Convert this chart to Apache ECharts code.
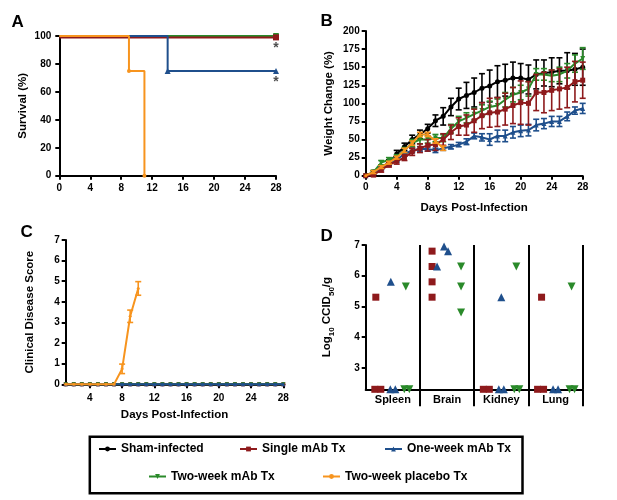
<!DOCTYPE html>
<html><head><meta charset="utf-8">
<script src="https://cdn.jsdelivr.net/npm/echarts@6/dist/echarts.min.js"></script>
<style>html,body{margin:0;padding:0;background:#fff}#c{width:617px;height:500px}</style>
</head><body><div id="c"></div>
<script>
// ================= DATA =================
const groupNames = ['Sham-infected', 'Single mAb Tx', 'One-week mAb Tx', 'Two-week mAb Tx', 'Two-week placebo Tx'];

// Panel A: survival (%) — [day, percent]
const survSham = [[0, 100], [28, 100]];
const survSingle = [[0, 99], [28, 99]];
const survOneWeek = [[0, 100], [14, 75], [28, 75]];
const survTwoWeek = [[0, 100], [28, 100]];
const survPlacebo = [[0, 100], [9, 75], [11, 0]];
const survStars = [[28, 99], [28, 75]];

// Panel B: weight change (%) mean and error per day
const weightDays = [0,1,2,3,4,5,6,7,8,9,10,11,12,13,14,15,16,17,18,19,20,21,22,23,24,25,26,27,28];
const wSham     = [0,5,12,18,30,40,50,57,65,76,82,95,106,111,115,121,124,130,132,135,135,133,140,142,143,145,145,147,150];
const wShamErr  = [0,2,3,4,5,5,6,6,6,8,12,12,15,18,20,20,22,22,22,22,20,20,20,18,20,18,25,22,25];
const wSingle    = [0,1,8,15,20,25,33,38,42,43,50,60,68,70,76,83,87,88,92,97,101,100,115,115,118,120,122,130,132];
const wSingleErr = [0,2,3,3,4,4,5,6,8,8,8,10,12,14,16,18,20,20,22,25,30,30,25,28,28,28,28,28,25];
const wOneWeek    = [0,3,10,17,22,30,35,37,37,35,38,40,43,47,55,53,50,55,55,60,62,63,70,72,75,75,82,90,93];
const wOneWeekErr = [0,1,2,2,3,3,3,3,3,3,3,3,3,4,4,5,8,8,8,8,8,8,8,7,7,7,6,5,7];
const wTwoWeek    = [0,5,18,22,26,35,45,50,50,52,52,65,75,80,85,90,95,97,105,112,115,120,140,140,138,140,145,155,162];
const wTwoWeekErr = [0,2,3,3,3,4,5,6,5,5,5,6,7,7,8,8,8,9,10,10,10,10,8,8,8,10,10,12,15];
const wPlaceboDays = [0,1,2,3,4,5,6,7,8,9,10];
const wPlacebo     = [0,5,12,18,25,35,45,57,57,48,38];
const wPlaceboErr  = [0,2,2,2,2,3,3,3,3,3,3];

// Panel C: clinical disease score
const scoreDays = [1,2,3,4,5,6,7,8,9,10,11,12,13,14,15,16,17,18,19,20,21,22,23,24,25,26,27,28];
const scoreMab  = [0,0,0,0,0,0,0,0,0,0,0,0,0,0,0,0,0,0,0,0,0,0,0,0,0,0,0,0];
const scorePlaceboDays = [1,2,3,4,5,6,7,8,9,10];
const scorePlacebo     = [0,0,0,0,0,0,0,0.75,3.3,4.65];
const scorePlaceboErr  = [0,0,0,0,0,0,0,0.23,0.3,0.33];

// Panel D: log10 CCID50/g per organ
const organs = ['Spleen', 'Brain', 'Kidney', 'Lung'];
const LOD = 2.3;
const titerSingle  = [[5.3, LOD, LOD], [6.8, 6.3, 5.8, 5.3], [LOD, LOD], [5.3, LOD, LOD]];
const titerOneWeek = [[5.8, LOD, LOD], [6.95, 6.8, 6.3], [5.3, LOD, LOD], [LOD, LOD]];
const titerTwoWeek = [[5.65, LOD, LOD], [6.3, 5.65, 4.8], [6.3, LOD, LOD], [5.65, LOD, LOD]];

// Tick labels
const ticksC_x = [4,8,12,16,20,24,28];
const ticksD_y = [3,4,5,6,7];

// ================= STYLE =================
const FONT = "'Liberation Sans', Arial, sans-serif";
const COL = {
  'Sham-infected': '#000000',
  'Single mAb Tx': '#8e1a1c',
  'One-week mAb Tx': '#1f4f8c',
  'Two-week mAb Tx': '#2a8a2a',
  'Two-week placebo Tx': '#f7941e'
};
const SYM = {
  'Sham-infected': ['circle', 0],
  'Single mAb Tx': ['rect', 0],
  'One-week mAb Tx': ['triangle', 0],
  'Two-week mAb Tx': ['triangle', 180],
  'Two-week placebo Tx': ['circle', 0]
};
// scatter offsets in panel D (pixels)
const dBase = {'Single mAb Tx': -15, 'One-week mAb Tx': 0, 'Two-week mAb Tx': 14};
const dJitSingle  = [[-2, -3, 3], [0, 0, 0, 0], [-3, 3], [1, -3, 3]];
const dJitOneWeek = [[-2, -2.5, 2.5], [-3, 1, -10], [0, -2.5, 2.5], [-2.5, 2.5]];
const dJitTwoWeek = [[-1, -2.5, 2.5], [0, 0, 0], [1, -1, 4], [2, 0, 5]];

const lbl = {color: '#000', fontFamily: FONT, fontWeight: 'bold', fontSize: 10};
const nameStyle = {color: '#000', fontFamily: FONT, fontWeight: 'bold', fontSize: 11.5};
const axLine = {show: true, onZero: false, lineStyle: {color: '#000', width: 2}};
const axTick = {show: true, length: 4, lineStyle: {color: '#000', width: 2}};

function errRender(color) {
  return function (params, api) {
    const x = api.value(0), lo = api.value(1), hi = api.value(2);
    const p1 = api.coord([x, lo]), p2 = api.coord([x, hi]);
    const w = 3;
    const st = {stroke: color, lineWidth: 1.6};
    return {type: 'group', children: [
      {type: 'line', shape: {x1: p1[0], y1: p1[1], x2: p2[0], y2: p2[1]}, style: st},
      {type: 'line', shape: {x1: p1[0] - w, y1: p1[1], x2: p1[0] + w, y2: p1[1]}, style: st},
      {type: 'line', shape: {x1: p2[0] - w, y1: p2[1], x2: p2[0] + w, y2: p2[1]}, style: st}
    ]};
  };
}
function errSeries(name, axis, days, mean, err, z) {
  const data = [];
  days.forEach((d, i) => { if (err[i] > 0) data.push([d, mean[i] - err[i], mean[i] + err[i]]); });
  return {type: 'custom', name, xAxisIndex: axis, yAxisIndex: axis, z, silent: true, clip: false,
    renderItem: errRender(COL[name]), encode: {x: 0, y: [1, 2]}, data};
}
function lineSeries(name, axis, data, z, size, width) {
  return {type: 'line', name, xAxisIndex: axis, yAxisIndex: axis, z, data, clip: false,
    symbol: SYM[name][0], symbolRotate: SYM[name][1], symbolSize: size, showAllSymbol: true,
    lineStyle: {color: COL[name], width: width}, itemStyle: {color: COL[name]},
    emphasis: {disabled: true}, animation: false};
}
const zip = (xs, ys) => xs.map((x, i) => [x, ys[i]]);

const series = [];
// --- Panel B (first, so legend icons come from these) ---
const bOrder = [
  ['Sham-infected', wSham, wShamErr, weightDays],
  ['Two-week mAb Tx', wTwoWeek, wTwoWeekErr, weightDays],
  ['One-week mAb Tx', wOneWeek, wOneWeekErr, weightDays],
  ['Single mAb Tx', wSingle, wSingleErr, weightDays],
  ['Two-week placebo Tx', wPlacebo, wPlaceboErr, wPlaceboDays]
];
bOrder.forEach((g, k) => {
  series.push(lineSeries(g[0], 1, zip(g[3], g[1]), 10 + 2 * k, g[0] === 'Two-week placebo Tx' ? 3 : 5, 2));
  series.push(errSeries(g[0], 1, g[3], g[1], g[2], 9 + 2 * k));
});

// --- Panel A ---
const aOrder = [
  ['Sham-infected', survSham], ['Two-week mAb Tx', survTwoWeek], ['Single mAb Tx', survSingle],
  ['One-week mAb Tx', survOneWeek], ['Two-week placebo Tx', survPlacebo]
];
aOrder.forEach((g, k) => {
  const s = lineSeries(g[0], 0, g[1], 10 + k, g[0] === 'Two-week placebo Tx' ? 4 : 6, 2);
  s.step = 'end';
  const base = SYM[g[0]][0];
  s.symbol = (v, p) => (p.dataIndex === 0 ? 'none' : base);
  series.push(s);
});
// significance stars
series.push({type: 'scatter', name: 'stars', xAxisIndex: 0, yAxisIndex: 0, z: 30, silent: true, clip: false,
  symbolSize: 0, data: survStars,
  label: {show: true, formatter: '*', position: 'bottom', distance: 4, color: '#222', fontFamily: FONT, fontWeight: 'bold', fontSize: 14}});

// --- Panel C ---
const cOrder = ['Sham-infected', 'Single mAb Tx', 'Two-week mAb Tx', 'One-week mAb Tx'];
cOrder.forEach((n, k) => series.push(lineSeries(n, 2, zip(scoreDays, scoreMab), 10 + k, 4, 2)));
series.push(lineSeries('Two-week placebo Tx', 2, zip(scorePlaceboDays, scorePlacebo), 20, 3, 2));
series.push(errSeries('Two-week placebo Tx', 2, scorePlaceboDays, scorePlacebo, scorePlaceboErr, 19));

// --- Panel D ---
function dData(name, vals, jit) {
  const out = [];
  vals.forEach((arr, i) => arr.forEach((v, k) => out.push({value: [i, v], symbolOffset: [dBase[name] + jit[i][k], 0]})));
  return out;
}
[['Single mAb Tx', titerSingle, dJitSingle], ['One-week mAb Tx', titerOneWeek, dJitOneWeek], ['Two-week mAb Tx', titerTwoWeek, dJitTwoWeek]]
  .forEach((g, k) => series.push({type: 'scatter', name: g[0], xAxisIndex: 3, yAxisIndex: 3, z: 10 + k, clip: false,
    symbol: SYM[g[0]][0], symbolRotate: SYM[g[0]][1], symbolSize: g[0] === 'Single mAb Tx' ? 7 : 8,
    itemStyle: {color: COL[g[0]], opacity: 1}, data: dData(g[0], g[1], g[2])}));

const grids = [
  {left: 59.3, top: 36, width: 216.7, height: 139.7},
  {left: 365.7, top: 31, width: 217, height: 144.7},
  {left: 65.7, top: 240, width: 217.6, height: 144.3},
  {left: 365.7, top: 245, width: 217, height: 144.3}
];

const xAxis = [
  {type: 'value', gridIndex: 0, min: 0, max: 28, interval: 4, axisLine: axLine, axisTick: axTick,
   axisLabel: Object.assign({margin: 8}, lbl), splitLine: {show: false}},
  {type: 'value', gridIndex: 1, min: 0, max: 28, interval: 4, axisLine: axLine, axisTick: axTick,
   axisLabel: Object.assign({margin: 7}, lbl), splitLine: {show: false},
   name: 'Days Post-Infection', nameLocation: 'middle', nameGap: 26, nameTextStyle: nameStyle},
  {type: 'value', gridIndex: 2, min: 1, max: 28, axisLine: axLine,
   axisTick: Object.assign({customValues: ticksC_x}, axTick),
   axisLabel: Object.assign({margin: 9, customValues: ticksC_x}, lbl), splitLine: {show: false},
   name: 'Days Post-Infection', nameLocation: 'middle', nameGap: 25, nameTextStyle: nameStyle},
  {type: 'category', gridIndex: 3, data: organs, boundaryGap: true, axisLine: axLine,
   axisTick: {show: true, length: 17, interval: (i) => i > 0, lineStyle: {color: '#000', width: 2}},
   axisLabel: Object.assign({}, lbl, {fontSize: 11, margin: 5, interval: 0}),
   splitLine: {show: true, interval: 0, lineStyle: {color: '#000', width: 2}}}
];
const yAxis = [
  {type: 'value', gridIndex: 0, min: 0, max: 100, interval: 20, axisLine: axLine, axisTick: axTick,
   axisLabel: Object.assign({margin: 8}, lbl), splitLine: {show: false},
   name: 'Survival (%)', nameLocation: 'middle', nameGap: 30, nameTextStyle: nameStyle},
  {type: 'value', gridIndex: 1, min: 0, max: 200, interval: 25, axisLine: axLine, axisTick: axTick,
   axisLabel: Object.assign({margin: 6}, lbl), splitLine: {show: false},
   name: 'Weight Change (%)', nameLocation: 'middle', nameGap: 31, nameTextStyle: nameStyle},
  {type: 'value', gridIndex: 2, min: 0, max: 7, interval: 1, axisLine: axLine, axisTick: axTick,
   axisLabel: Object.assign({margin: 6}, lbl), splitLine: {show: false},
   name: 'Clinical Disease Score', nameLocation: 'middle', nameGap: 30, nameTextStyle: nameStyle},
  {type: 'value', gridIndex: 3, min: LOD, max: 7, axisLine: axLine,
   axisTick: Object.assign({customValues: ticksD_y}, axTick),
   axisLabel: Object.assign({margin: 6, customValues: ticksD_y}, lbl), splitLine: {show: false},
   name: '{n|Log}{s|10}{n| CCID}{s|50}{n|/g}', nameLocation: 'middle', nameGap: 30,
   nameTextStyle: {rich: {
     n: {color: '#000', fontFamily: FONT, fontWeight: 'bold', fontSize: 11.5, verticalAlign: 'bottom', padding: [0, 0, 3, 0]},
     s: {color: '#000', fontFamily: FONT, fontWeight: 'bold', fontSize: 8, verticalAlign: 'bottom'}
   }}}
];

const legTxt = {color: '#000', fontFamily: FONT, fontWeight: 'bold', fontSize: 12};
function leg(name, left, top) {
  return {data: [name], left, top, padding: 0, itemWidth: 17, itemHeight: 6, itemGap: 0,
    textStyle: legTxt, selectedMode: false};
}
const legends = [
  leg(groupNames[0], 98, 443), leg(groupNames[1], 239, 443), leg(groupNames[2], 384, 443),
  leg(groupNames[3], 148, 470.5), leg(groupNames[4], 322, 470.5)
];

const panelLetter = (t, x, y) => ({type: 'text', left: x, top: y, z: 50,
  style: {text: t, fill: '#000', font: "bold 17px 'Liberation Sans', Arial, sans-serif"}});

const chart = echarts.init(document.getElementById('c'), null, {renderer: 'canvas'});
chart.setOption({
  animation: false,
  backgroundColor: '#fff',
  grid: grids,
  xAxis, yAxis,
  legend: legends,
  graphic: [
    panelLetter('A', 11.5, 14), panelLetter('B', 320.5, 13),
    panelLetter('C', 20.5, 224), panelLetter('D', 320.5, 227.5),
    {type: 'rect', left: 87.3, top: 434.3, z: 40, shape: {width: 432.7, height: 56.4},
     style: {fill: 'none', stroke: '#000', lineWidth: 2.5}}
  ],
  series
});
</script></body></html>
